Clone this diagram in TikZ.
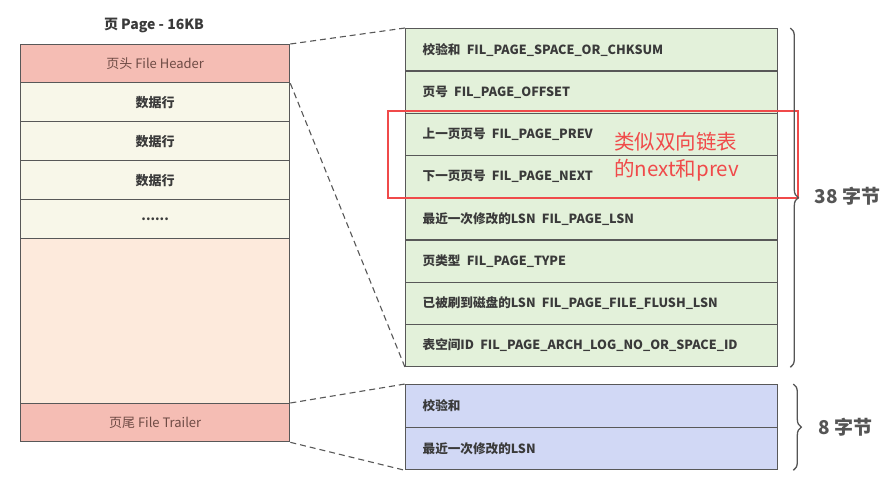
\documentclass[tikz,border=0pt]{standalone}
\usepackage{fontspec}
\setmainfont{Noto Sans CJK SC}
\usetikzlibrary{decorations.pathreplacing,calc}
\definecolor{edge}{HTML}{585858}
\definecolor{hdrfill}{HTML}{F5BDB4}
\definecolor{rowfill}{HTML}{F8F7E9}
\definecolor{freefill}{HTML}{FDEADC}
\definecolor{greenfill}{HTML}{E3F1DA}
\definecolor{bluefill}{HTML}{D1D8F5}
\definecolor{txt}{HTML}{3A3A3A}
\definecolor{hdrtxt}{HTML}{6E4B45}
\definecolor{redmark}{HTML}{F04A4A}
\definecolor{bracecol}{HTML}{555555}
\tikzset{
  x=1pt,y=-1pt,
  cell/.style={draw=edge,line width=1.3pt,minimum width=269pt,inner sep=0pt,anchor=north west,font=\fontsize{13}{15}\selectfont},
  hdr/.style={cell,fill=hdrfill,text=hdrtxt,minimum height=38pt},
  datarow/.style={cell,fill=rowfill,text=txt,minimum height=39pt,font=\fontsize{13}{15}\selectfont\bfseries},
  field/.style={draw=edge,line width=1.3pt,minimum width=372pt,inner ysep=0pt,inner xsep=0pt,anchor=north west,text width=338pt,align=left,text=txt,font=\fontsize{12.6}{15}\selectfont\bfseries},
  gfield/.style={field,fill=greenfill,minimum height=42.25pt},
  bfield/.style={field,fill=bluefill,minimum height=42.5pt},
  link/.style={draw=edge,line width=1.1pt,dash pattern=on 6pt off 4pt},
  bracedec/.style={draw=bracecol,line width=1.3pt,decorate,decoration={brace,amplitude=8pt}},
  sizelbl/.style={text=bracecol,font=\fontsize{19}{21}\selectfont\bfseries,anchor=west}
}
\begin{document}
\begin{tikzpicture}
\useasboundingbox (0,0) rectangle (886,485);
\fill[white] (0,0) rectangle (886,485);
% title
\node[text=txt,font=\fontsize{14}{16}\selectfont\bfseries] (title) at (154,25) {页 Page - 16KB};
% left page
\node[hdr] (fh) at (20,44) {页头 File Header};
\node[datarow] (r1) at (20,82) {数据行};
\node[datarow] (r2) at (20,121) {数据行};
\node[datarow] (r3) at (20,160) {数据行};
\node[datarow] (r4) at (20,199) {......};
\node[cell,fill=freefill,minimum height=165pt] (free) at (20,238) {};
\node[hdr] (ft) at (20,403) {页尾 File Trailer};
% green header fields
\node[gfield] (g1) at (405,28) {校验和\enspace FIL\_PAGE\_SPACE\_OR\_CHKSUM};
\node[gfield] (g2) at (405,70.25) {页号\enspace FIL\_PAGE\_OFFSET};
\node[gfield] (g3) at (405,112.5) {上一页页号\enspace FIL\_PAGE\_PREV};
\node[gfield] (g4) at (405,154.75) {下一页页号\enspace FIL\_PAGE\_NEXT};
\node[gfield] (g5) at (405,197) {最近一次修改的LSN\enspace FIL\_PAGE\_LSN};
\node[gfield] (g6) at (405,239.25) {页类型\enspace FIL\_PAGE\_TYPE};
\node[gfield] (g7) at (405,281.5) {已被刷到磁盘的LSN\enspace FIL\_PAGE\_FILE\_FLUSH\_LSN};
\node[gfield] (g8) at (405,323.75) {表空间ID\enspace FIL\_PAGE\_ARCH\_LOG\_NO\_OR\_SPACE\_ID};
% blue trailer fields
\node[bfield] (b1) at (405,384) {校验和};
\node[bfield] (b2) at (405,426.5) {最近一次修改的LSN};
% dashed connectors
\draw[link] (fh.north east) -- (g1.north west);
\draw[link] (fh.south east) -- (g8.south west);
\draw[link] (ft.north east) -- (b1.north west);
\draw[link] (ft.south east) -- (b2.south west);
% red highlight
\node[draw=redmark,line width=2pt,minimum width=410pt,minimum height=87pt,inner sep=0pt,anchor=north west] (hl) at (387,109.5) {};
\node[text=redmark,font=\fontsize{20.5}{27}\selectfont,align=left,anchor=west,inner sep=0pt] (note) at (614,157) {类似双向链表\\的next和prev};
% braces
\draw[bracedec] ($(g1.north east)+(12,0)$) coordinate (br1a) -- ($(g8.south east)+(12,0)$) coordinate (br1b);
\node[sizelbl] (l38) at (811,196) {38 字节};
\draw[bracedec] ($(b1.north east)+(15,0)$) coordinate (br2a) -- ($(b2.south east)+(15,0)$) coordinate (br2b);
\node[sizelbl] (l8) at (815,427) {8 字节};
\end{tikzpicture}
\end{document}
